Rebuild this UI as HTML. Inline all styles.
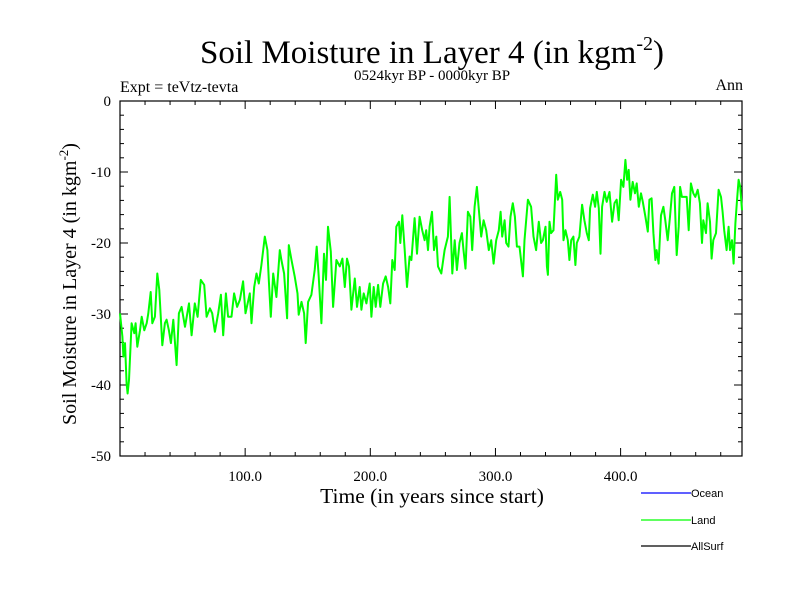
<!DOCTYPE html>
<html><head><meta charset="utf-8">
<style>
html,body{margin:0;padding:0;background:#fff;}
svg{display:block;}
text{font-family:"Liberation Serif",serif;fill:#000;}
.leg{font-family:"Liberation Sans",sans-serif;font-size:11px;}
</style></head>
<body>
<svg id="chart" width="800" height="600" viewBox="0 0 800 600">
  <rect width="800" height="600" fill="#fff"/>
  <text x="432" y="63" font-size="33" text-anchor="middle">Soil Moisture in Layer 4 (in kgm<tspan dy="-13" font-size="20">-2</tspan><tspan dy="13">)</tspan></text>
  <text x="432" y="80" font-size="15" text-anchor="middle">0524kyr BP - 0000kyr BP</text>
  <text x="120" y="92" font-size="16">Expt = teVtz-tevta</text>
  <text x="743" y="90" font-size="16" text-anchor="end">Ann</text>
  <text transform="translate(76,284) rotate(-90)" font-size="20" text-anchor="middle">Soil Moisture in Layer 4 (in kgm<tspan dy="-8" font-size="13">-2</tspan><tspan dy="8">)</tspan></text>
  <text x="432" y="503" font-size="21.5" text-anchor="middle">Time (in years since start)</text>
  <g id="axes"></g>
  <g id="series"></g>
  <g>
    <line x1="641" y1="493" x2="691" y2="493" stroke="#0000ff" stroke-width="1.2"/>
    <text class="leg" x="691" y="497">Ocean</text>
    <line x1="641" y1="520" x2="691" y2="520" stroke="#00ff00" stroke-width="1.2"/>
    <text class="leg" x="691" y="524">Land</text>
    <line x1="641" y1="546" x2="691" y2="546" stroke="#000" stroke-width="1.2"/>
    <text class="leg" x="691" y="550">AllSurf</text>
  </g>
</svg>
<script>
const years = [0,1.9,2.7,4.0,5.3,6.1,7.2,9.3,11.4,12.5,13.8,16.0,17.3,19.4,21.3,22.6,24.5,25.8,27.9,29.8,31.4,33.8,35.9,37.2,39.1,40.7,42.6,45.2,47.1,49.2,51.9,55.1,57.2,59.8,62.0,64.6,67.3,69.2,71.8,73.7,75.8,78.5,80.6,82.5,84.6,86.4,89.1,91.2,93.6,95.8,98.4,100.3,103.7,105.1,107.2,109.1,110.9,113.0,115.7,117.8,118.9,120.5,122.4,125.0,127.7,129.0,131.1,133.5,134.9,137.0,139.6,141.8,142.8,145.0,147.1,148.4,150.3,152.9,155.6,157.2,158.8,160.9,163.0,164.6,166.2,168.4,170.3,172.9,175.6,177.7,179.6,181.4,183.0,184.9,187.6,189.4,191.5,192.9,194.7,196.9,199.5,200.9,202.7,204.3,206.2,208.0,210.2,212.3,214.2,216.0,217.6,219.5,220.8,222.9,224.0,225.6,227.5,229.3,231.4,232.8,235.4,237.3,239.4,241.5,243.4,244.7,246.1,247.4,249.3,250.9,252.7,254.1,256.7,259.4,262.0,263.4,265.5,267.4,269.2,271.3,273.2,274.5,276.1,278.0,279.9,281.4,283.3,285.2,286.8,288.6,290.5,292.6,294.7,296.6,298.5,300.6,302.7,304.1,305.4,307.3,308.6,310.4,312.0,313.9,315.5,317.1,319.2,321.9,323.2,325.9,328.5,330.4,332.5,334.6,336.5,337.9,340.0,341.1,341.9,343.2,344.5,346.4,348.5,349.8,351.7,353.3,354.4,356.0,357.8,359.1,360.5,362.3,363.9,365.0,367.1,369.2,371.1,373.0,374.6,375.6,377.8,379.6,381.0,382.6,383.9,385.2,387.1,388.9,391.1,393.2,395.1,396.9,398.5,400.4,402.2,403.8,405.2,406.5,407.8,409.7,411.5,412.9,414.5,416.3,417.7,419.8,421.7,423.0,424.8,426.2,427.8,428.8,430.4,432.3,434.2,435.7,437.6,439.5,441.1,442.9,444.8,446.4,447.5,449.0,450.9,452.8,454.4,456.2,458.1,459.7,461.6,463.4,465.0,466.1,468.2,469.5,471.4,472.7,474.1,476.2,478.3,480.2,481.5,482.8,484.7,486.3,487.4,489.0,490.3,491.7,493.0,494.3,495.6,497.0];
const landValues = [-29.9,-33.2,-36.0,-34.1,-39.8,-41.2,-39.3,-31.3,-32.7,-31.3,-34.6,-32.3,-30.4,-32.3,-31.3,-29.9,-26.9,-31.3,-30.4,-24.3,-26.6,-34.4,-31.3,-30.8,-32.3,-34.1,-30.8,-37.2,-29.9,-29.0,-31.8,-28.5,-33.0,-28.5,-30.4,-25.2,-25.9,-30.4,-29.2,-29.9,-32.5,-29.9,-27.3,-33.0,-27.1,-30.4,-30.4,-27.1,-29.0,-28.0,-25.4,-29.9,-27.1,-31.3,-26.2,-24.3,-25.7,-23.1,-19.1,-21.0,-25.2,-30.4,-24.3,-27.6,-21.0,-22.4,-24.3,-30.6,-20.3,-22.4,-24.7,-27.1,-30.1,-28.3,-29.9,-34.1,-28.3,-27.3,-23.8,-20.5,-24.7,-31.3,-21.5,-25.2,-17.7,-21.2,-29.0,-22.4,-23.3,-22.2,-26.2,-22.2,-23.3,-29.4,-25.0,-29.0,-26.2,-29.4,-27.1,-28.5,-25.7,-30.4,-26.2,-29.0,-25.9,-29.0,-25.7,-24.7,-26.2,-28.5,-22.4,-23.8,-17.7,-17.0,-20.0,-16.1,-21.0,-26.2,-21.9,-22.4,-16.5,-21.5,-16.3,-18.2,-19.6,-18.2,-21.0,-17.7,-15.6,-21.0,-19.1,-23.3,-24.3,-21.0,-19.1,-13.5,-24.3,-19.6,-23.8,-20.0,-18.6,-21.0,-23.6,-15.6,-16.3,-21.0,-14.9,-12.1,-15.4,-19.1,-16.8,-18.2,-21.0,-19.6,-22.9,-19.6,-18.2,-15.6,-19.1,-16.8,-20.0,-20.5,-16.3,-14.4,-16.3,-20.5,-20.5,-24.7,-19.6,-13.9,-14.9,-19.1,-21.0,-17.0,-20.0,-19.6,-17.7,-23.3,-24.5,-17.0,-18.6,-18.2,-10.4,-13.9,-12.8,-13.9,-19.6,-18.2,-19.6,-22.4,-19.6,-19.1,-23.1,-20.0,-19.1,-14.6,-16.8,-18.6,-19.6,-15.1,-13.2,-14.9,-12.8,-15.1,-21.5,-14.9,-12.8,-14.2,-12.8,-17.0,-14.4,-13.9,-16.8,-11.1,-12.1,-8.3,-11.1,-9.7,-13.9,-11.4,-13.0,-11.6,-14.9,-13.0,-14.2,-16.3,-18.4,-13.9,-13.7,-18.6,-22.4,-21.0,-22.9,-16.1,-14.9,-16.8,-19.6,-16.3,-13.0,-12.1,-21.7,-17.7,-12.1,-13.5,-13.5,-13.5,-18.2,-11.6,-13.0,-13.5,-12.5,-14.4,-20.0,-16.8,-18.6,-14.4,-17.0,-22.2,-19.6,-18.6,-12.5,-13.5,-15.6,-18.2,-21.0,-17.7,-21.0,-19.6,-22.9,-17.2,-14.0,-11.1,-12.1,-15.4];
const xTickValues = [100,200,300,400];
const xTickLabels = ["100.0","200.0","300.0","400.0"];
const yTickValues = [0,-10,-20,-30,-40,-50];
const yTickLabels = ["0","-10","-20","-30","-40","-50"];

const L=120, R=742, T=101, B=456;
const xMin=0, xMax=497, yMin=-50, yMax=0;
function xs(v){return L+(v-xMin)/(xMax-xMin)*(R-L);}
function ys(v){return B-(v-yMin)/(yMax-yMin)*(B-T);}
const NS="http://www.w3.org/2000/svg";
const axes=document.getElementById('axes');
function mk(tag,attrs,parent){const e=document.createElementNS(NS,tag);for(const k in attrs)e.setAttribute(k,attrs[k]);parent.appendChild(e);return e;}

const frame=mk('rect',{x:L,y:T,width:R-L,height:B-T,fill:'none',stroke:'#000','stroke-width':1.2},axes);



for(let v=20; v<xMax; v+=20){
  const major = v%100===0;
  const len = major?8:4;
  const x=xs(v);
  const t1=mk('line',{x1:x,y1:B,x2:x,y2:B-len,stroke:'#000','stroke-width':1},axes);
  
  
  const t2=mk('line',{x1:x,y1:T,x2:x,y2:T+len,stroke:'#000','stroke-width':1},axes);
  
  
}
xTickValues.forEach((v,i)=>{
  const t=mk('text',{x:xs(v),y:B+25,'font-size':15,'text-anchor':'middle'},axes);
  t.textContent=xTickLabels[i];
  
  
});
for(let v=-48; v<0; v+=2){
  const major = v%10===0;
  const len = major?8:4;
  const y=ys(v);
  const t1=mk('line',{x1:L,y1:y,x2:L+len,y2:y,stroke:'#000','stroke-width':1},axes);
  
  
  const t2=mk('line',{x1:R,y1:y,x2:R-len,y2:y,stroke:'#000','stroke-width':1},axes);
  
  
}
yTickValues.forEach((v,i)=>{
  const t=mk('text',{x:111,y:ys(v)+5,'font-size':15,'text-anchor':'end'},axes);
  t.textContent=yTickLabels[i];
  
  
});

const series=document.getElementById('series');
const pts=years.map((yr,i)=>xs(yr).toFixed(1)+','+ys(landValues[i]).toFixed(1)).join(' ');
const line=mk('polyline',{points:pts,fill:'none',stroke:'#00ff00','stroke-width':2,'stroke-linejoin':'round'},series);


</script>
</body></html>
